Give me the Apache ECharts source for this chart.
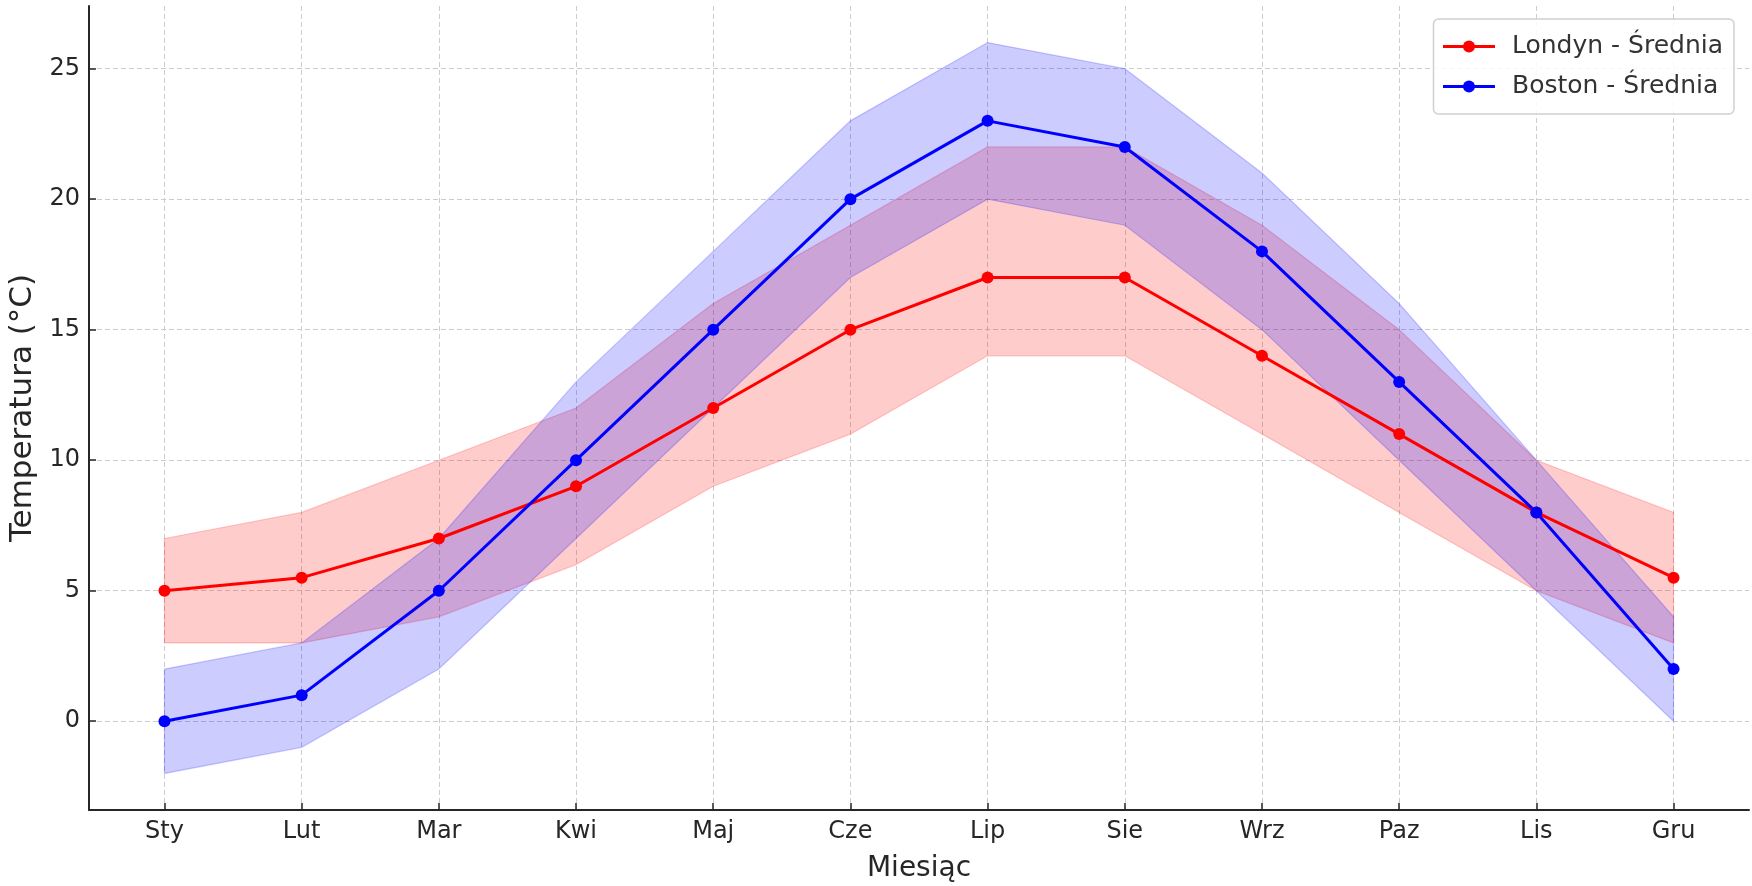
<!DOCTYPE html>
<html>
<head>
<meta charset="utf-8">
<script src="https://cdn.jsdelivr.net/npm/echarts@6/dist/echarts.min.js"></script>
<style>
html,body{margin:0;padding:0;background:#fff;}
#chart{width:1752px;height:886px;}
</style>
</head>
<body>
<div id="chart"></div>
<script>
const months = ['Sty','Lut','Mar','Kwi','Maj','Cze','Lip','Sie','Wrz','Paz','Lis','Gru'];
const londonMean  = [5, 5.5, 7, 9, 12, 15, 17, 17, 14, 11, 8, 5.5];
const londonLow   = [3, 3, 4, 6, 9, 11, 14, 14, 11, 8, 5, 3];
const londonHigh  = [7, 8, 10, 12, 16, 19, 22, 22, 19, 15, 10, 8];
const bostonMean  = [0, 1, 5, 10, 15, 20, 23, 22, 18, 13, 8, 2];
const bostonLow   = [-2, -1, 2, 7, 12, 17, 20, 19, 15, 10, 5, 0];
const bostonHigh  = [2, 3, 7, 13, 18, 23, 26, 25, 21, 16, 10, 4];
const yTicks = [0, 5, 10, 15, 20, 25];
const monthIdx = months.map((m, i) => i);

const FONT = 'DejaVu Sans';
const TXT = '#262626';
const pts = arr => arr.map((v, i) => [i, v]);

function band(name, lo, hi, rgb) {
  const data = lo.map((v, i) => [i, v, hi[i]]);
  return {
    type: 'custom', name: name, silent: true, z: 1,
    encode: { x: 0, y: [1, 2] },
    data: data,
    renderItem: function (params, api) {
      if (params.dataIndex !== 0) return null;
      const n = data.length;
      const upper = [], lower = [];
      for (let j = 0; j < n; j++) {
        const x = api.value(0, j);
        upper.push(api.coord([x, api.value(2, j)]));
        lower.unshift(api.coord([x, api.value(1, j)]));
      }
      return {
        type: 'polygon',
        shape: { points: upper.concat(lower) },
        style: {
          fill: 'rgba(' + rgb + ',0.2)',
          stroke: 'rgba(' + rgb + ',0.2)',
          lineWidth: 1.2
        }
      };
    }
  };
}

const chart = echarts.init(document.getElementById('chart'), null, { renderer: 'canvas' });
chart.setOption({
  animation: false,
  backgroundColor: '#fff',
  textStyle: { fontFamily: FONT },
  grid: { left: 89, right: 3, top: 6, bottom: 76, containLabel: false, outerBoundsMode: 'none' },
  legend: {
    orient: 'vertical',
    right: 18, top: 19,
    data: ['Londyn - Średnia', 'Boston - Średnia'],
    itemWidth: 52, itemHeight: 15, itemGap: 15,
    padding: [15, 11, 15, 8],
    lineStyle: { width: 3 },
    backgroundColor: 'rgba(255,255,255,0.85)',
    borderColor: '#d0d0d0', borderWidth: 1.5, borderRadius: 5,
    textStyle: { fontFamily: FONT, fontSize: 25, color: '#333333', padding: [0, 0, 0, 12] }
  },
  xAxis: {
    type: 'value', min: -0.55, max: 11.55,
    name: 'Miesiąc', nameLocation: 'middle', nameGap: 45,
    nameTextStyle: { fontFamily: FONT, fontSize: 28, color: TXT },
    axisLine: { show: true, onZero: false, lineStyle: { color: '#262626', width: 2 } },
    axisTick: { show: true, inside: true, length: 7, customValues: monthIdx, lineStyle: { color: '#262626', width: 1.5 } },
    axisLabel: { customValues: monthIdx, margin: 10, fontFamily: FONT, fontSize: 24, color: TXT, formatter: v => months[Math.round(v)] },
    splitLine: { show: true, lineStyle: { color: '#cccccc', type: [5, 3], width: 1 } }
  },
  yAxis: {
    type: 'value', min: -3.4, max: 27.4,
    name: 'Temperatura (°C)', nameLocation: 'middle', nameGap: 44,
    nameTextStyle: { fontFamily: FONT, fontSize: 31, color: TXT },
    axisLine: { show: true, onZero: false, lineStyle: { color: '#262626', width: 2 } },
    axisTick: { show: true, inside: true, length: 7, customValues: yTicks, lineStyle: { color: '#262626', width: 1.5 } },
    axisLabel: { customValues: yTicks, margin: 9, fontFamily: FONT, fontSize: 24, color: TXT },
    splitLine: { show: true, lineStyle: { color: '#cccccc', type: [5, 3], width: 1 } }
  },
  series: [
    band('London band', londonLow, londonHigh, '255,0,0'),
    band('Boston band', bostonLow, bostonHigh, '0,0,255'),
    {
      type: 'line', name: 'Londyn - Średnia', data: pts(londonMean),
      symbol: 'circle', symbolSize: 12,
      lineStyle: { color: '#ff0000', width: 3 }, itemStyle: { color: '#ff0000' }, z: 3
    },
    {
      type: 'line', name: 'Boston - Średnia', data: pts(bostonMean),
      symbol: 'circle', symbolSize: 12,
      lineStyle: { color: '#0000ff', width: 3 }, itemStyle: { color: '#0000ff' }, z: 3
    }
  ]
});
</script>
</body>
</html>
